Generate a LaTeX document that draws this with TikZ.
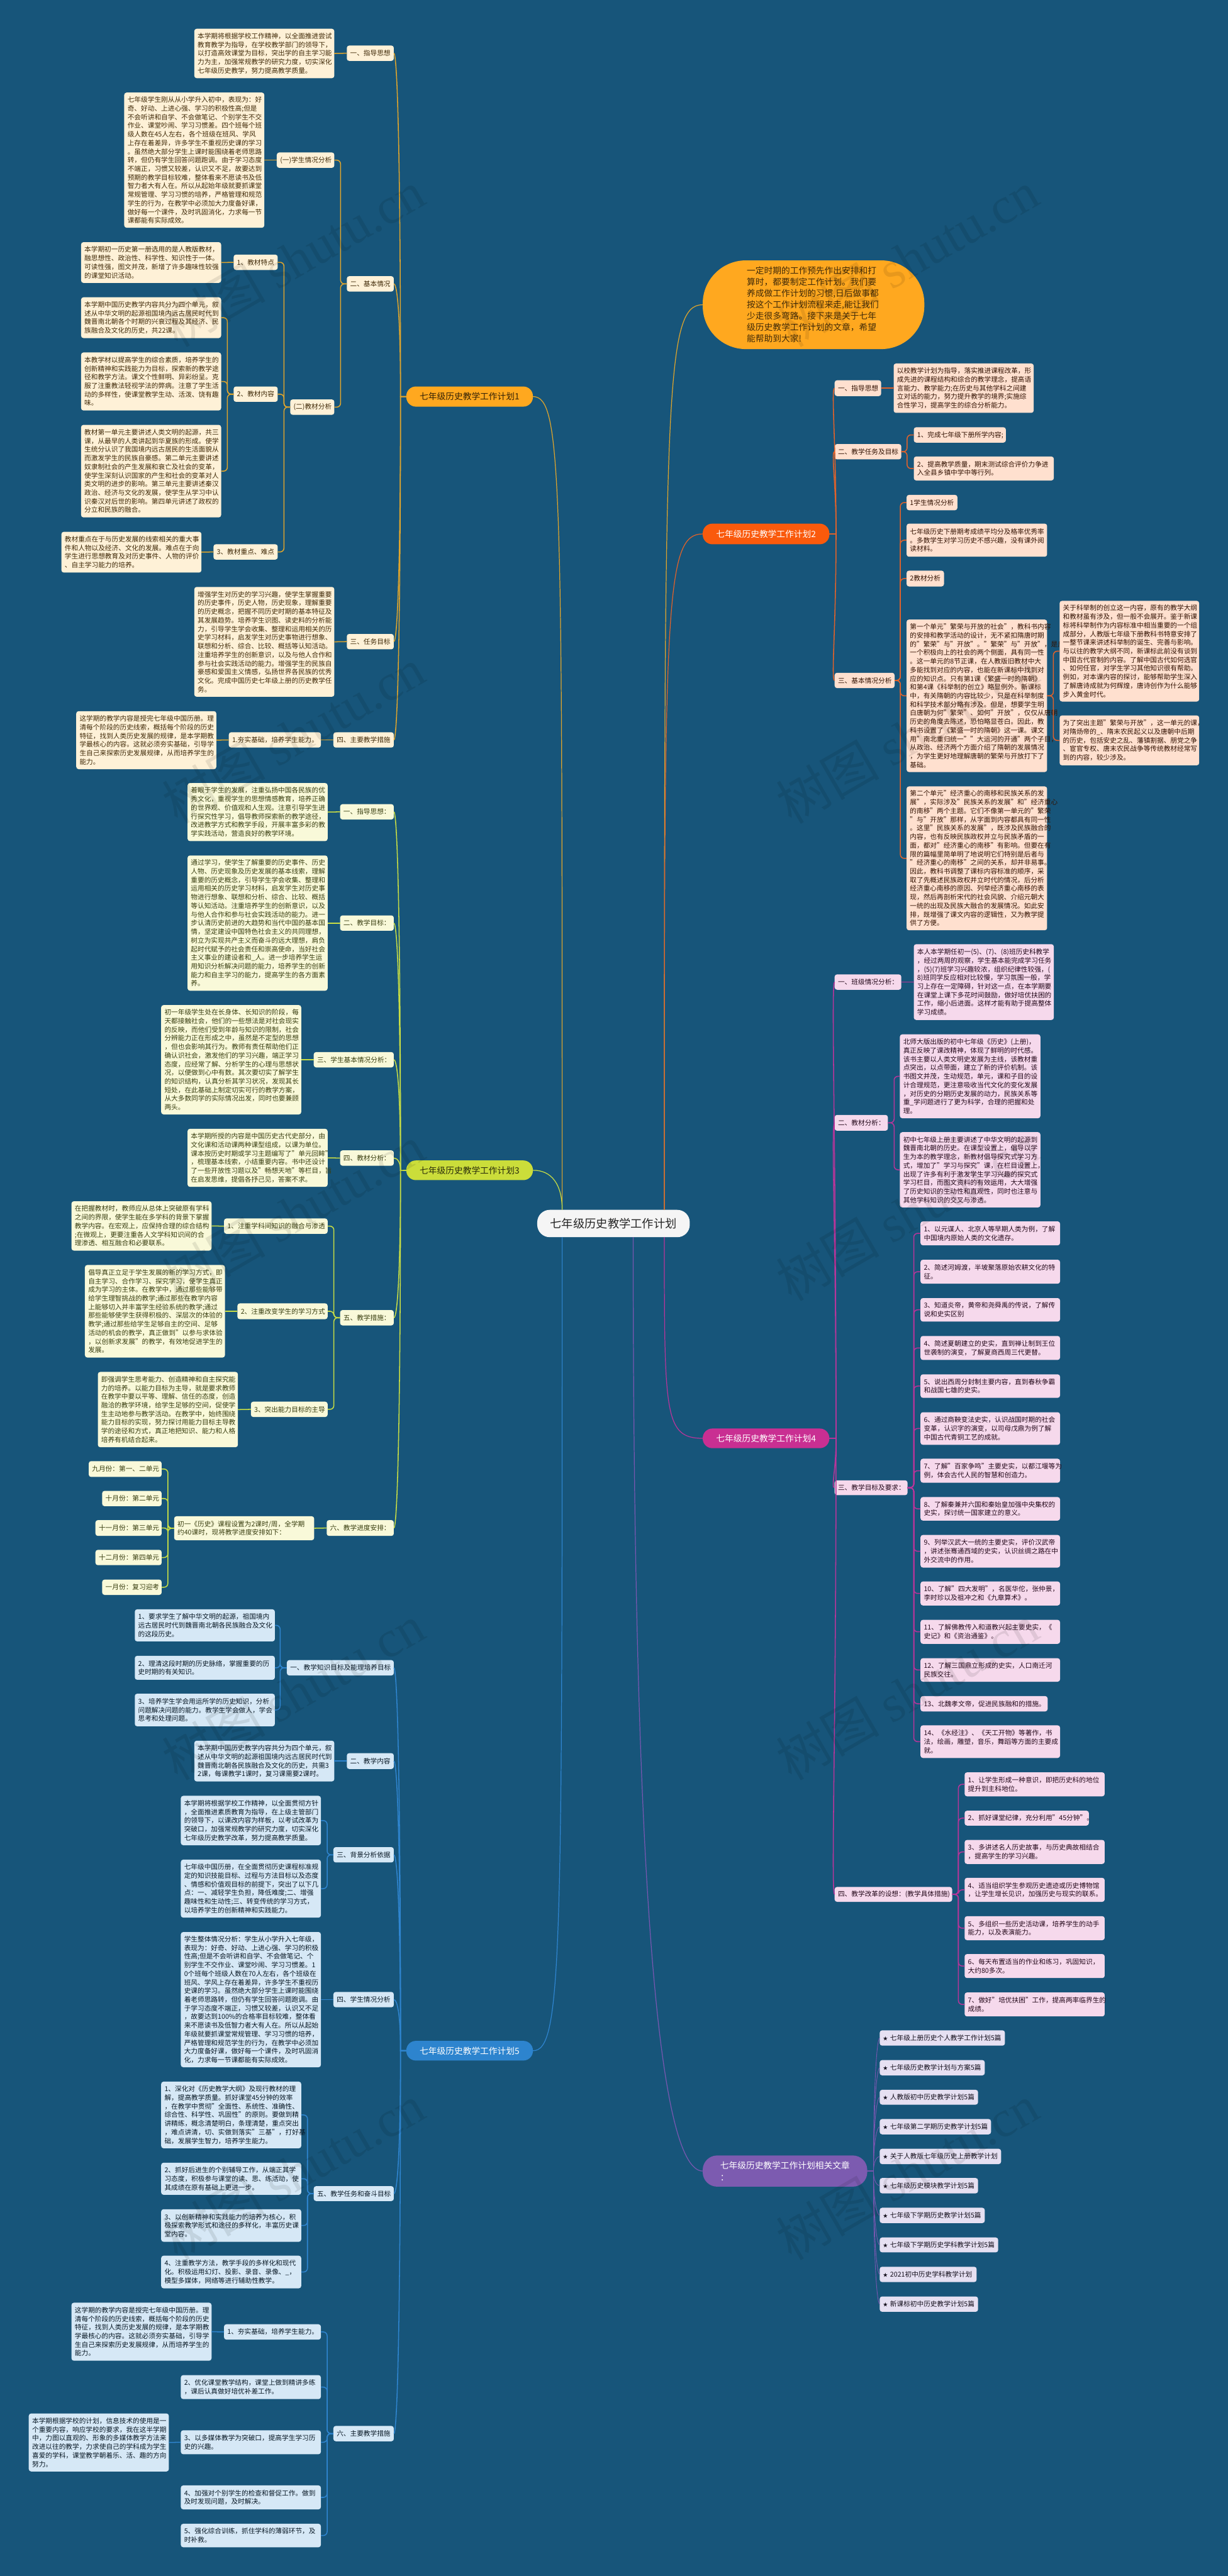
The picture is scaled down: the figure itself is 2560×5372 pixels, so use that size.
\documentclass[tikz,border=0pt]{standalone}
\usepackage{fontspec}
\setmainfont{Noto Sans CJK SC}
\newfontfamily\wmfont{Liberation Serif}
\usepackage{xcolor}
\usetikzlibrary{positioning}
\definecolor{bgblue}{HTML}{17557A}
\definecolor{gold}{HTML}{FFA81F}
\definecolor{goldline}{HTML}{E0A52C}
\definecolor{goldleaf}{HTML}{FEF1D7}
\definecolor{fire}{HTML}{FA5A0C}
\definecolor{fireline}{HTML}{E2622A}
\definecolor{fireleaf}{HTML}{FFE0CF}
\definecolor{lime}{HTML}{CBDD3A}
\definecolor{limeline}{HTML}{C9DE44}
\definecolor{limeleaf}{HTML}{F9F9D9}
\definecolor{rose}{HTML}{C92F92}
\definecolor{roseline}{HTML}{B8359A}
\definecolor{roseleaf}{HTML}{F6D9EC}
\definecolor{sky}{HTML}{2D84CE}
\definecolor{skyline}{HTML}{2F85D0}
\definecolor{skyleaf}{HTML}{D6E8F6}
\definecolor{violet}{HTML}{7C5BB0}
\definecolor{violetline}{HTML}{7957B0}
\definecolor{violetleaf}{HTML}{E6E0F2}
\newcommand{\starmark}{{\fontsize{10}{18}\selectfont ★}}
\tikzset{
    leaf/.style={
        anchor=north west,
        align=left,
        inner xsep=7pt,
        inner ysep=0pt,
        outer sep=0pt,
        rounded corners=5pt,
        font=\fontsize{14}{18}\selectfont
    },
    sz/.code 2 args={
        \pgfmathsetmacro\boxw{#1-14}
        \tikzset{text width=\boxw pt, minimum height=#2pt}
    },
    leafA/.style={leaf, fill=goldleaf, text=black!75!gold},
    leafB/.style={leaf, fill=fireleaf, text=black!80!fire},
    leafC/.style={leaf, fill=limeleaf, text=black!72!lime},
    leafD/.style={leaf, fill=roseleaf, text=black!82!rose},
    leafE/.style={leaf, fill=skyleaf, text=black!82!sky},
    leafF/.style={leaf, fill=violetleaf, text=black!85!violet},
    plan/.style={
        anchor=north west,
        align=left,
        inner xsep=28pt,
        inner ysep=0pt,
        outer sep=0pt,
        rounded corners=20pt,
        font=\fontsize{18}{24}\selectfont
    },
    linkA/.style={draw=goldline, line width=2pt, rounded corners=8pt},
    linkB/.style={draw=fireline, line width=2pt, rounded corners=8pt},
    linkC/.style={draw=limeline, line width=2pt, rounded corners=8pt},
    linkD/.style={draw=roseline, line width=2pt, rounded corners=8pt},
    linkE/.style={draw=skyline, line width=2pt, rounded corners=8pt},
    linkF/.style={draw=violetline, line width=1.2pt},
    wmark/.style={anchor=west, rotate=30, text=black, text opacity=0.09, inner sep=0pt,
        font=\fontsize{108}{108}\selectfont}
}

\begin{document}
\begin{tikzpicture}[x=1pt,y=-1pt]
    \fill[bgblue] (0,0) rectangle (2560,5372);
    \useasboundingbox (0,0) rectangle (2560,5372);

    % centre and the six branches
    \node[anchor=north west, fill=white!96!black, text=black!85, rounded corners=26pt, minimum width=318pt, minimum height=57pt, outer sep=0pt, font=\fontsize{24}{30}\selectfont] (root) at (1120,2523) {七年级历史教学工作计划};
    \node[anchor=north west, fill=gold, text=black!75!gold, rounded corners=90pt, inner xsep=92pt, text width=278pt, minimum height=185pt, align=left, outer sep=0pt, font=\fontsize{18}{23.6}\selectfont] (intro) at (1465,543) {一定时期的工作预先作出安排和打\\算时，都要制定工作计划。我们要\\养成做工作计划的习惯,日后做事都\\按这个工作计划流程来走,能让我们\\少走很多弯路。接下来是关于七年\\级历史教学工作计划的文章，希望\\能帮助到大家!};
    \node[plan, fill=gold, text=black!80!gold, minimum width=247pt, minimum height=42pt] (p1) at (847,806) {七年级历史教学工作计划1};
    \node[plan, fill=fire, text=white, minimum width=248pt, minimum height=43pt] (p2) at (1465,1092) {七年级历史教学工作计划2};
    \node[plan, fill=lime, text=black!80!lime, minimum width=247pt, minimum height=41pt] (p3) at (847,2420) {七年级历史教学工作计划3};
    \node[plan, fill=rose, text=white, minimum width=248pt, minimum height=41pt] (p4) at (1465,2979) {七年级历史教学工作计划4};
    \node[plan, fill=sky, text=white, minimum width=247pt, minimum height=41pt] (p5) at (847,4256) {七年级历史教学工作计划5};
    \node[plan, fill=violet, text=white, rounded corners=30pt, minimum width=343pt, minimum height=65pt] (p6) at (1465,4495) {七年级历史教学工作计划相关文章\\：};

    % plan 1
    \node[leafA, sz={98}{32}] (p1a) at (723,95) {一、指导思想};
    \node[leafA, sz={292}{103}] (p1a1) at (405,60) {本学期将根据学校工作精神，以全面推进尝试\\教育教学为指导，在学校教学部门的领导下，\\以打造高效课堂为目标，突出学的自主学习能\\力为主，加强常规教学的研究力度，切实深化\\七年级历史教学，努力提高教学质量。};
    \node[leafA, sz={98}{32}] (p1b) at (723,576) {二、基本情况};
    \node[leafA, sz={120}{32}] (p1b1) at (577,318) {(一)学生情况分析};
    \node[leafA, sz={292}{282}] (p1b1a) at (259,193) {七年级学生刚从从小学升入初中，表现为：好\\奇、好动、上进心强、学习的积极性高;但是\\不会听讲和自学、不会做笔记、个别学生不交\\作业、课堂吵闹、学习习惯差。四个班每个班\\级人数在45人左右，各个班级在班风、学风\\上存在着差异，许多学生不重视历史课的学习\\。虽然绝大部分学生上课时能围绕着老师思路\\转，但仍有学生回答问题跑调。由于学习态度\\不端正，习惯又较差，认识又不足，故要达到\\预期的教学目标较难，整体看来不愿读书及低\\智力者大有人在。所以从起始年级就要抓课堂\\常规管理、学习习惯的培养，严格管理和规范\\学生的行为，在教学中必须加大力度备好课，\\做好每一个课件，及时巩固消化，力求每一节\\课都能有实际成效。};
    \node[leafA, sz={92}{32}] (p1b2) at (605,833) {(二)教材分析};
    \node[leafA, sz={92}{32}] (p1b2a) at (487,531) {1、教材特点};
    \node[leafA, sz={292}{85}] (p1b2a1) at (169,505) {本学期初一历史第一册选用的是人教版教材，\\融思想性、政治性、科学性、知识性于一体。\\可读性强，图文并茂，新增了许多趣味性较强\\的课堂知识活动。};
    \node[leafA, sz={92}{32}] (p1b2b) at (487,806) {2、教材内容};
    \node[leafA, sz={292}{85}] (p1b2b1) at (169,620) {本学期中国历史教学内容共分为四个单元，叙\\述从中华文明的起源祖国境内远古居民时代到\\魏晋南北朝各个时期的兴衰过程及其经济、民\\族融合及文化的历史，共22课。};
    \node[leafA, sz={292}{121}] (p1b2b2) at (169,735) {本教学材以提高学生的综合素质，培养学生的\\创新精神和实践能力为目标，探索新的教学途\\径和教学方法。课文个性鲜明、异彩纷呈。克\\服了注重教法轻视学法的弊病。注意了学生活\\动的多样性，使课堂教学生动、活泼、饶有趣\\味。};
    \node[leafA, sz={292}{193}] (p1b2b3) at (169,886) {教材第一单元主要讲述人类文明的起源，共三\\课，从最早的人类讲起到华夏族的形成。使学\\生统分认识了我国境内远古居民的生活面貌从\\而激发学生的民族自豪感。第二单元主要讲述\\奴隶制社会的产生发展和衰亡及社会的变革，\\使学生深刻认识国家的产生和社会的变革对人\\类文明的进步的影响。第三单元主要讲述秦汉\\政治、经济与文化的发展，使学生从学习中认\\识秦汉对后世的影响。第四单元讲述了政权的\\分立和民族的融合。};
    \node[leafA, sz={134}{32}] (p1b2c) at (445,1135) {3、教材重点、难点};
    \node[leafA, sz={292}{85}] (p1b2c1) at (128,1109) {教材重点在于与历史发展的线索相关的重大事\\件和人物以及经济、文化的发展。难点在于向\\学生进行思想教育及对历史事件、人物的评价\\、自主学习能力的培养。};
    \node[leafA, sz={98}{32}] (p1c) at (723,1322) {三、任务目标};
    \node[leafA, sz={292}{229}] (p1c1) at (405,1224) {增强学生对历史的学习兴趣，使学生掌握重要\\的历史事件，历史人物，历史现象，理解重要\\的历史概念，把握不同历史时期的基本特征及\\其发展趋势。培养学生识图、读史料的分析能\\力，引导学生学会收集、整理和运用相关的历\\史学习材料，启发学生对历史事物进行想象、\\联想和分析、综合、比较、概括等认知活动。\\注重培养学生的创新意识，以及与他人合作和\\参与社会实践活动的能力。增强学生的民族自\\豪感和爱国主义情感，弘扬世界各民族的优秀\\文化。完成中国历史七年级上册的历史教学任\\务。};
    \node[leafA, sz={126}{32}] (p1d) at (695,1527) {四、主要教学措施};
    \node[leafA, sz={192}{32}] (p1d1) at (477,1527) {1.夯实基础，培养学生能力。};
    \node[leafA, sz={292}{121}] (p1d1a) at (159,1483) {这学期的教学内容是授完七年级中国历册。理\\清每个阶段的历史线索，概括每个阶段的历史\\特征，找到人类历史发展的规律，是本学期教\\学最核心的内容。这就必须夯实基础，引导学\\生自己来探索历史发展规律，从而培养学生的\\能力。};

    % plan 2
    \node[leafB, sz={97}{33}] (p2a) at (1740,793) {一、指导思想};
    \node[leafB, sz={292}{103}] (p2a1) at (1863,758) {以校教学计划为指导，落实推进课程改革，形\\成先进的课程结构和综合的教学理念，提高语\\言能力、教学能力;在历史与其他学科之间建\\立对话的能力，努力提升教学的境界;实施综\\合性学习，提高学生的综合分析能力。};
    \node[leafB, sz={139}{32}] (p2b) at (1740,926) {二、教学任务及目标};
    \node[leafB, sz={192}{32}] (p2b1) at (1905,891) {1、完成七年级下册所学内容;};
    \node[leafB, sz={292}{50}] (p2b2) at (1905,952) {2、提高教学质量，期末测试综合评价力争进\\入全县乡镇中学中等行列。};
    \node[leafB, sz={125}{32}] (p2c) at (1740,1403) {三、基本情况分析};
    \node[leafB, sz={106}{32}] (p2c1) at (1890,1032) {1学生情况分析};
    \node[leafB, sz={293}{69}] (p2c2) at (1890,1092) {七年级历史下册期考成绩平均分及格率优秀率\\。多数学生对学习历史不感兴趣，没有课外阅\\读材料。};
    \node[leafB, sz={78}{33}] (p2c3) at (1890,1190) {2教材分析};
    \node[leafB, sz={293}{318}] (p2c4) at (1890,1292) {第一个单元"繁荣与开放的社会"，教科书内容\\的安排和教学活动的设计，无不紧扣隋唐时期\\的"繁荣"与"开放"。"繁荣"与"开放"，是反映\\一个积极向上的社会的两个侧面，具有同一性\\。这一单元的8节正课，在人教版旧教材中大\\多能找到对应的内容，也能在新课标中找到对\\应的知识点。只有第1课《繁盛一时的隋朝》\\和第4课《科举制的创立》略显例外。新课标\\中，有关隋朝的内容比较少，只是在科举制度\\和科学技术部分略有涉及。但是，想要学生明\\白唐朝为何"繁荣"、如何"开放"，仅仅从唐朝\\历史的角度去陈述，恐怕略显苍白。因此，教\\科书设置了《繁盛一时的隋朝》这一课。课文\\用"南北重归统一""大运河的开通"两个子目，\\从政治、经济两个方面介绍了隋朝的发展情况\\，为学生更好地理解唐朝的繁荣与开放打下了\\基础。};
    \node[leafB, sz={291}{210}] (p2c4a) at (2209,1253) {关于科举制的创立这一内容，原有的教学大纲\\和教材虽有涉及，但一般不会展开。鉴于新课\\标将科举制作为内容标准中相当重要的一个组\\成部分，人教版七年级下册教科书特意安排了\\一整节课来讲述科举制的诞生、完善与影响。\\与以往的教学大纲不同，新课标此前没有谈到\\中国古代官制的内容。了解中国古代如何选官\\、如何任官，对学生学习其他知识很有帮助。\\例如，对本课内容的探讨，能够帮助学生深入\\了解唐诗成就为何辉煌，唐诗创作为什么能够\\步入黄金时代。};
    \node[leafB, sz={291}{104}] (p2c4b) at (2209,1492) {为了突出主题"繁荣与开放"，这一单元的课，\\对隋炀帝的\_、隋末农民起义以及唐朝中后期\\的历史，包括安史之乱、藩镇割据、朋党之争\\、宦官专权、唐末农民战争等传统教材经常写\\到的内容，较少涉及。};
    \node[leafB, sz={293}{300}] (p2c5) at (1890,1640) {第二个单元"经济重心的南移和民族关系的发\\展"，实际涉及"民族关系的发展"和"经济重心\\的南移"两个主题。它们不像第一单元的"繁荣\\"与"开放"那样，从字面到内容都具有同一性\\。这里"民族关系的发展"，既涉及民族融合的\\内容，也有反映民族政权并立与民族矛盾的一\\面，都对"经济重心的南移"有影响。但要在有\\限的篇幅里简单明了地说明它们特别是后者与\\"经济重心的南移"之间的关系，却并非易事。\\因此，教科书调整了课标内容标准的顺序，采\\取了先概述民族政权并立时代的情况，后分析\\经济重心南移的原因、列举经济重心南移的表\\现，然后再剖析宋代的社会风貌、介绍元朝大\\一统的出现及民族大融合的发展情况。如此安\\排，既增强了课文内容的逻辑性，又为教学提\\供了方便。};

    % plan 3
    \node[leafC, sz={112}{32}] (p3a) at (709,1677) {一、指导思想：};
    \node[leafC, sz={292}{121}] (p3a1) at (391,1633) {着眼于学生的发展，注重弘扬中国各民族的优\\秀文化，重视学生的思想情感教育，培养正确\\的世界观、价值观和人生观。注意引导学生进\\行探究性学习，倡导教师探索新的教学途径，\\改进教学方式和教学手段，开展丰富多彩的教\\学实践活动，营造良好的教学环境。};
    \node[leafC, sz={112}{32}] (p3b) at (709,1909) {二、教学目标：};
    \node[leafC, sz={292}{282}] (p3b1) at (391,1784) {通过学习，使学生了解重要的历史事件、历史\\人物、历史现象及历史发展的基本线索，理解\\重要的历史概念，引导学生学会收集、整理和\\运用相关的历史学习材料，启发学生对历史事\\物进行想象、联想和分析、综合、比较、概括\\等认知活动。注重培养学生的创新意识，以及\\与他人合作和参与社会实践活动的能力。进一\\步认清历史前进的大趋势和当代中国的基本国\\情，坚定建设中国特色社会主义的共同理想，\\树立为实现共产主义而奋斗的远大理想，肩负\\起时代赋予的社会责任和崇高使命，当好社会\\主义事业的建设者和\_人。进一步培养学生运\\用知识分析解决问题的能力，培养学生的创新\\能力和自主学习的能力，提高学生的各方面素\\养。};
    \node[leafC, sz={167}{32}] (p3c) at (654,2194) {三、学生基本情况分析：};
    \node[leafC, sz={292}{228}] (p3c1) at (336,2096) {初一年级学生处在长身体、长知识的阶段，每\\天都接触社会，他们的一些想法是对社会现实\\的反映，而他们受到年龄与知识的限制，社会\\分辨能力正在形成之中，虽然是不定型的思想\\，但也会影响其行为。教师有责任帮助他们正\\确认识社会，激发他们的学习兴趣，端正学习\\态度，应经常了解、分析学生的心理与思想状\\况，以便做到心中有数。其次要切实了解学生\\的知识结构，认真分析其学习状况，发现其长\\短处，在此基础上制定切实可行的教学方案，\\从大多数同学的实际情况出发，同时也要兼顾\\两头。};
    \node[leafC, sz={112}{32}] (p3d) at (709,2399) {四、教材分析：};
    \node[leafC, sz={292}{121}] (p3d1) at (391,2354) {本学期所授的内容是中国历史古代史部分，由\\文化课和活动课两种课型组成，以课为单位。\\课本按历史时期或学习主题编写了"单元回眸"\\，梳理基本线索，小结重要内容。书中还设计\\了一些开放性习题以及"畅想天地"等栏目，旨\\在启发思维，提倡各抒己见，答案不求。};
    \node[leafC, sz={112}{32}] (p3e) at (709,2732) {五、教学措施：};
    \node[leafC, sz={216}{32}] (p3e1) at (467,2541) {1、注重学科间知识的融合与渗透};
    \node[leafC, sz={292}{103}] (p3e1a) at (149,2505) {在把握教材时，教师应从总体上突破原有学科\\之间的界限，使学生能在多学科的背景下掌握\\教学内容。在宏观上，应保持合理的综合结构\\;在微观上，更要注重各人文学科知识间的合\\理渗透、相互融合和必要联系。};
    \node[leafC, sz={188}{33}] (p3e2) at (495,2718) {2、注重改变学生的学习方式};
    \node[leafC, sz={292}{193}] (p3e2a) at (177,2638) {倡导真正立足于学生发展的新的学习方式，即\\自主学习、合作学习、探究学习，使学生真正\\成为学习的主体。在教学中，通过那些能够带\\给学生理智挑战的教学;通过那些在教学内容\\上能够切入并丰富学生经验系统的教学;通过\\那些能够使学生获得积极的、深层次的体验的\\教学;通过那些给学生足够自主的空间、足够\\活动的机会的教学，真正做到"以参与求体验\\，以创新求发展"的教学，有效地促进学生的\\发展。};
    \node[leafC, sz={160}{32}] (p3e3) at (523,2923) {3、突出能力目标的主导};
    \node[leafC, sz={292}{157}] (p3e3a) at (204,2861) {即强调学生思考能力、创造精神和自主探究能\\力的培养。以能力目标为主导，就是要求教师\\在教学中要以平等、理解、信任的态度，创造\\融洽的教学环境，给学生足够的空间，促使学\\生主动地参与教学活动。在教学中，始终围绕\\能力目标的实现，努力探讨用能力目标主导教\\学的途径和方式，真正地把知识、能力和人格\\培养有机结合起来。};
    \node[leafC, sz={140}{33}] (p3f) at (681,3170) {六、教学进度安排：};
    \node[leafC, sz={292}{50}] (p3f1) at (363,3162) {初一《历史》课程设置为2课时/周，全学期\\约40课时，现将教学进度安排如下：};
    \node[leafC, sz={152}{33}] (p3f1a) at (185,3047) {九月份：第一、二单元};
    \node[leafC, sz={124}{32}] (p3f1b) at (213,3109) {十月份：第二单元};
    \node[leafC, sz={138}{33}] (p3f1c) at (199,3170) {十一月份：第三单元};
    \node[leafC, sz={138}{32}] (p3f1d) at (199,3232) {十二月份：第四单元};
    \node[leafC, sz={124}{32}] (p3f1e) at (213,3294) {一月份：复习迎考};

    % plan 4
    \node[leafD, sz={139}{32}] (p4a) at (1740,2032) {一、班级情况分析：};
    \node[leafD, sz={292}{158}] (p4a1) at (1905,1969) {本人本学期任初一(5)、(7)、(8)班历史科教学\\，经过两周的观察，学生基本能完成学习任务\\，(5)(7)班学习兴趣较浓，组织纪律性较强，(\\8)班同学反应相对比较慢，学习氛围一般，学\\习上存在一定障碍，针对这一点，在本学期要\\在课堂上课下多花时间鼓励，做好培优扶困的\\工作，缩小后进面。这样才能有助于提高整体\\学习成绩。};
    \node[leafD, sz={111}{33}] (p4b) at (1740,2325) {二、教材分析：};
    \node[leafD, sz={293}{175}] (p4b1) at (1876,2157) {北师大版出版的初中七年级《历史》(上册)，\\真正反映了课改精神，体现了鲜明的时代感。\\该书主要以人类文明史发展为主线，该教材重\\点突出，以点带面，建立了新的评价机制。该\\书图文并茂，生动规范，单元，课和子目的设\\计合理规范，更注意吸收当代文化的变化发展\\，对历史的分期历史发展的动力，民族关系等\\重\_学问题进行了更为科学，合理的把握和处\\理。};
    \node[leafD, sz={293}{157}] (p4b2) at (1876,2361) {初中七年级上册主要讲述了中华文明的起源到\\魏晋南北朝的历史。在课型设置上，倡导以学\\生为本的教学理念，新教材倡导探究式学习方\\式，增加了"学习与探究"课，在栏目设置上，\\出现了许多有利于激发学生学习兴趣的探究式\\学习栏目，而图文资料的有效运用，大大增强\\了历史知识的生动性和直观性，同时也注意与\\其他学科知识的交叉与渗透。};
    \node[leafD, sz={152}{31}] (p4c) at (1740,3087) {三、教学目标及要求：};
    \node[leafD, sz={291}{50}] (p4c1) at (1919,2547) {1、以元谋人、北京人等早期人类为例，了解\\中国境内原始人类的文化遗存。};
    \node[leafD, sz={291}{50}] (p4c2) at (1919,2627) {2、简述河姆渡，半坡聚落原始农耕文化的特\\征。};
    \node[leafD, sz={291}{49}] (p4c3) at (1919,2707) {3、知道炎帝，黄帝和尧舜禹的传说，了解传\\说和史实区别};
    \node[leafD, sz={291}{50}] (p4c4) at (1919,2786) {4、简述夏朝建立的史实，直到禅让制到王位\\世袭制的演变，了解夏商西周三代更替。};
    \node[leafD, sz={291}{49}] (p4c5) at (1919,2866) {5、说出西周分封制主要内容，直到春秋争霸\\和战国七雄的史实。};
    \node[leafD, sz={291}{68}] (p4c6) at (1919,2945) {6、通过商鞅变法史实，认识战国时期的社会\\变革，认识字的演变，以司母戊鼎为例了解\\中国古代青铜工艺的成就。};
    \node[leafD, sz={291}{50}] (p4c7) at (1919,3042) {7、了解"百家争鸣"主要史实，以都江堰等为\\例，体会古代人民的智慧和创造力。};
    \node[leafD, sz={291}{49}] (p4c8) at (1919,3122) {8、了解秦兼并六国和秦始皇加强中央集权的\\史实，探讨统一国家建立的意义。};
    \node[leafD, sz={291}{68}] (p4c9) at (1919,3201) {9、列举汉武大一统的主要史实，评价汉武帝\\，讲述张骞通西域的史实，认识丝绸之路在中\\外交流中的作用。};
    \node[leafD, sz={291}{50}] (p4c10) at (1919,3298) {10、了解"四大发明"，名医华佗，张仲景，\\李时珍以及祖冲之和《九章算术》。};
    \node[leafD, sz={291}{50}] (p4c11) at (1919,3378) {11、了解佛教传入和道教兴起主要史实，《\\史记》和《资治通鉴》。};
    \node[leafD, sz={291}{49}] (p4c12) at (1919,3458) {12、了解三国鼎立形成的史实，人口南迁河\\民族交往。};
    \node[leafD, sz={265}{32}] (p4c13) at (1919,3537) {13、北魏孝文帝，促进民族融和的措施。};
    \node[leafD, sz={291}{68}] (p4c14) at (1919,3598) {14、《水经注》、《天工开物》等著作，书\\法，绘画，雕塑，音乐，舞蹈等方面的主要成\\就。};
    \node[leafD, sz={245}{31}] (p4d) at (1740,3935) {四、教学改革的设想：(教学具体措施)};
    \node[leafD, sz={292}{50}] (p4d1) at (2011,3696) {1、让学生形成一种意识，即把历史科的地位\\提升到主科地位。};
    \node[leafD, sz={259}{31}] (p4d2) at (2011,3776) {2、抓好课堂纪律，充分利用"45分钟"。};
    \node[leafD, sz={292}{50}] (p4d3) at (2011,3837) {3、多讲述名人历史故事，与历史典故相结合\\，提高学生的学习兴趣。};
    \node[leafD, sz={292}{50}] (p4d4) at (2011,3916) {4、适当组织学生参观历史遗迹或历史博物馆\\，让学生增长见识，加强历史与现实的联系。};
    \node[leafD, sz={292}{50}] (p4d5) at (2011,3996) {5、多组织一些历史活动课，培养学生的动手\\能力，以及表演能力。};
    \node[leafD, sz={292}{50}] (p4d6) at (2011,4075) {6、每天布置适当的作业和练习，巩固知识，\\大约80多次。};
    \node[leafD, sz={292}{50}] (p4d7) at (2011,4155) {7、做好"培优扶困"工作，提高两率临界生的\\成绩。};

    % plan 5
    \node[leafE, sz={223}{32}] (p5a) at (598,3462) {一、教学知识目标及能理培养目标};
    \node[leafE, sz={292}{67}] (p5a1) at (281,3356) {1、要求学生了解中华文明的起源，祖国境内\\远古居民时代到魏晋南北朝各民族融合及文化\\的这段历史。};
    \node[leafE, sz={292}{50}] (p5a2) at (281,3453) {2、理清这段时期的历史脉络，掌握重要的历\\史时期的有关知识。};
    \node[leafE, sz={292}{68}] (p5a3) at (281,3532) {3、培养学生学会用运所学的历史知识，分析\\问题解决问题的能力。教学生学会做人，学会\\思考和处理问题。};
    \node[leafE, sz={98}{33}] (p5b) at (723,3656) {二、教学内容};
    \node[leafE, sz={292}{85}] (p5b1) at (405,3630) {本学期中国历史教学内容共分为四个单元，叙\\述从中华文明的起源祖国境内远古居民时代到\\魏晋南北朝各民族融合及文化的历史，共需3\\2课，每课教学1课时，复习课需要2课时。};
    \node[leafE, sz={126}{32}] (p5c) at (695,3852) {三、背景分析依据};
    \node[leafE, sz={292}{103}] (p5c1) at (377,3745) {本学期将根据学校工作精神，以全面贯彻方针\\，全面推进素质教育为指导，在上级主管部门\\的领导下，以课改内容为样板，以考试改革为\\突破口，加强常规教学的研究力度，切实深化\\七年级历史教学改革，努力提高教学质量。};
    \node[leafE, sz={292}{121}] (p5c2) at (377,3878) {七年级中国历册，在全面贯彻历史课程标准规\\定的知识技能目标、过程与方法目标以及态度\\、情感和价值观目标的前提下，突出了以下几\\点：一、减轻学生负担，降低难度;二、增强\\趣味性和生动性;三、转变传统的学习方式，\\以培养学生的创新精神和实践能力。};
    \node[leafE, sz={126}{32}] (p5d) at (695,4154) {四、学生情况分析};
    \node[leafE, sz={292}{282}] (p5d1) at (377,4029) {学生整体情况分析：学生从小学升入七年级，\\表现为：好奇、好动、上进心强、学习的积极\\性高;但是不会听讲和自学、不会做笔记、个\\别学生不交作业、课堂吵闹、学习习惯差。1\\0个班每个班级人数在70人左右，各个班级在\\班风、学风上存在着差异，许多学生不重视历\\史课的学习。虽然绝大部分学生上课时能围绕\\着老师思路转，但仍有学生回答问题跑调。由\\于学习态度不端正，习惯又较差，认识又不足\\，故要达到100\%的合格率目标较难，整体看\\来不愿读书及低智力者大有人在。所以从起始\\年级就要抓课堂常规管理、学习习惯的培养，\\严格管理和规范学生的行为，在教学中必须加\\大力度备好课，做好每一个课件，及时巩固消\\化，力求每一节课都能有实际成效。};
    \node[leafE, sz={167}{31}] (p5e) at (654,4559) {五、教学任务和奋斗目标};
    \node[leafE, sz={292}{139}] (p5e1) at (336,4341) {1、深化对《历史教学大纲》及现行教材的理\\解，提高教学质量。抓好课堂45分钟的效率\\，在教学中贯彻"全面性、系统性、准确性、\\综合性、科学性、巩固性"的原则。要做到精\\讲精练，概念清楚明白，条理清楚，重点突出\\，难点讲清，切、实做到落实"三基"，打好基\\础，发展学生智力，培养学生能力。};
    \node[leafE, sz={292}{67}] (p5e2) at (336,4510) {2、抓好后进生的个别辅导工作，从端正其学\\习态度，积极参与课堂的读、思、练活动，使\\其成绩在原有基础上更进一步。};
    \node[leafE, sz={292}{68}] (p5e3) at (336,4607) {3、以创新精神和实践能力的培养为核心，积\\极探索教学形式和途径的多样化，丰富历史课\\堂内容。};
    \node[leafE, sz={292}{68}] (p5e4) at (336,4704) {4、注重教学方法，教学手段的多样化和现代\\化。积极运用幻灯、投影、录音、录像、\_，\\模型多媒体，网络等进行辅助性教学。};
    \node[leafE, sz={126}{32}] (p5f) at (695,5059) {六、主要教学措施};
    \node[leafE, sz={202}{32}] (p5f1) at (467,4847) {1、夯实基础，培养学生能力。};
    \node[leafE, sz={292}{121}] (p5f1a) at (149,4802) {这学期的教学内容是授完七年级中国历册。理\\清每个阶段的历史线索，概括每个阶段的历史\\特征，找到人类历史发展的规律，是本学期教\\学最核心的内容。这就必须夯实基础，引导学\\生自己来探索历史发展规律，从而培养学生的\\能力。};
    \node[leafE, sz={292}{50}] (p5f2) at (377,4953) {2、优化课堂教学结构，课堂上做到精讲多练\\，课后认真做好培优补差工作。};
    \node[leafE, sz={292}{50}] (p5f3) at (377,5068) {3、以多媒体教学为突破口，提高学生学习历\\史的兴趣。};
    \node[leafE, sz={292}{121}] (p5f3a) at (60,5033) {本学期根据学校的计划，信息技术的使用是一\\个重要内容，响应学校的要求，我在这半学期\\中，力图以直观的、形象的多媒体教学方法来\\改进以往的教学，力求使自己的学科成为学生\\喜爱的学科，课堂教学朝着乐、活、趣的方向\\努力。};
    \node[leafE, sz={292}{50}] (p5f4) at (377,5183) {4、加强对个别学生的检查和督促工作。做到\\及时发现问题，及时解决。};
    \node[leafE, sz={292}{49}] (p5f5) at (377,5263) {5、强化综合训练，抓住学科的薄弱环节，及\\时补救。};

    % plan 6
    \node[leafF, sz={261}{32}] (p6a) at (1834,4234) {\starmark~七年级上册历史个人教学工作计划5篇};
    \node[leafF, sz={219}{32}] (p6b) at (1834,4296) {\starmark~七年级历史教学计划与方案5篇};
    \node[leafF, sz={205}{31}] (p6c) at (1834,4358) {\starmark~人教版初中历史教学计划5篇};
    \node[leafF, sz={232}{32}] (p6d) at (1834,4419) {\starmark~七年级第二学期历史教学计划5篇};
    \node[leafF, sz={253}{32}] (p6e) at (1834,4481) {\starmark~关于人教版七年级历史上册教学计划};
    \node[leafF, sz={205}{32}] (p6f) at (1834,4542) {\starmark~七年级历史模块教学计划5篇};
    \node[leafF, sz={219}{32}] (p6g) at (1834,4604) {\starmark~七年级下学期历史教学计划5篇};
    \node[leafF, sz={247}{31}] (p6h) at (1834,4666) {\starmark~七年级下学期历史学科教学计划5篇};
    \node[leafF, sz={202}{32}] (p6i) at (1834,4727) {\starmark~2021初中历史学科教学计划};
    \node[leafF, sz={205}{32}] (p6j) at (1834,4789) {\starmark~新课标初中历史教学计划5篇};

    % connectors from the centre
    \coordinate (rootNL) at (1172,2523);
    \coordinate (rootSL) at (1172,2580);
    \coordinate (rootNR) at (1385,2523);
    \coordinate (rootSR) at (1385,2580);
    \coordinate (rootSB) at (1320,2580);
    \draw[goldline, line width=1.6pt] (rootNR) .. controls (1385,820) and (1385,635.5) .. (intro.west);
    \draw[goldline, line width=1.6pt] (rootNL) .. controls (1172,1000) and (1172,827) .. (p1.east);
    \draw[fireline, line width=1.6pt] (rootNR) .. controls (1385,1260) and (1385,1113) .. (p2.west);
    \draw[limeline, line width=1.6pt] (rootNL) .. controls (1172,2470) and (1150,2440) .. (p3.east);
    \draw[roseline, line width=1.6pt] (rootSR) .. controls (1385,2950) and (1385,2999) .. (p4.west);
    \draw[skyline, line width=1.6pt] (rootSL) .. controls (1172,4080) and (1172,4277) .. (p5.east);
    \draw[violetline, line width=1.6pt] (rootSB) .. controls (1320,3900) and (1370,4527) .. (p6.west);

    % branches to their first level
    \foreach \c/\d in {p1a/-465,p1b/-153,p1c/332,p1d/465}
        \draw[goldline, line width=2pt] (p1.west) -- ++(-12,0) .. controls +(0,\d) and +(8,0) .. (\c.east);
    \foreach \c/\d in {p2a/-197,p2b/-111,p2c/199}
        \draw[fireline, line width=2pt] (p2.east) -- ++(14,0) .. controls +(0,\d) and +(-8,0) .. (\c.west);
    \foreach \c/\d in {p3a/-485,p3b/-335,p3c/-150,p3d/-16,p3e/200,p3f/485}
        \draw[limeline, line width=2pt] (p3.west) -- ++(-12,0) .. controls +(0,\d) and +(8,0) .. (\c.east);
    \foreach \c/\d in {p4a/-618,p4b/-428,p4c/67,p4d/618}
        \draw[roseline, line width=2pt] (p4.east) -- ++(14,0) .. controls +(0,\d) and +(-8,0) .. (\c.west);
    \foreach \c/\d in {p5a/-520,p5b/-393,p5c/-266,p5d/-70,p5e/193,p5f/519}
        \draw[skyline, line width=2pt] (p5.west) -- ++(-12,0) .. controls +(0,\d) and +(8,0) .. (\c.east);
    \foreach \c/\d in {p6a/-180,p6b/-140,p6c/-100,p6d/-60,p6e/-20,p6f/20,p6g/60,p6h/100,p6i/140,p6j/180}
        \draw[linkF] (p6.east) -- ++(13,0) .. controls +(0,\d) and +(-6,0) .. (\c.west);

    % elbows
    \draw[linkA] (p1a.west) -- (p1a1.east);
    \foreach \c in {p1b1,p1b2} \draw[linkA] (p1b.west) -- ++(-13,0) |- (\c.east);
    \draw[linkA] (p1b1.west) -- (p1b1a.east);
    \foreach \c in {p1b2a,p1b2b,p1b2c} \draw[linkA] (p1b2.west) -- ++(-13,0) |- (\c.east);
    \draw[linkA] (p1b2a.west) -- (p1b2a1.east);
    \foreach \c in {p1b2b1,p1b2b2,p1b2b3} \draw[linkA] (p1b2b.west) -- ++(-13,0) |- (\c.east);
    \draw[linkA] (p1b2c.west) -- (p1b2c1.east);
    \draw[linkA] (p1c.west) -- (p1c1.east);
    \draw[linkA] (p1d.west) -- (p1d1.east);
    \draw[linkA] (p1d1.west) -- (p1d1a.east);

    \draw[linkB] (p2a.east) -- (p2a1.west);
    \foreach \c in {p2b1,p2b2} \draw[linkB] (p2b.east) -- ++(12,0) |- (\c.west);
    \foreach \c in {p2c1,p2c2,p2c3,p2c4,p2c5} \draw[linkB] (p2c.east) -- ++(12,0) |- (\c.west);
    \foreach \c in {p2c4a,p2c4b} \draw[linkB] (p2c4.east) -- ++(13,0) |- (\c.west);

    \draw[linkC] (p3a.west) -- (p3a1.east);
    \draw[linkC] (p3b.west) -- (p3b1.east);
    \draw[linkC] (p3c.west) -- (p3c1.east);
    \draw[linkC] (p3d.west) -- (p3d1.east);
    \foreach \c in {p3e1,p3e2,p3e3} \draw[linkC] (p3e.west) -- ++(-13,0) |- (\c.east);
    \draw[linkC] (p3e1.west) -- (p3e1a.east);
    \draw[linkC] (p3e2.west) -- (p3e2a.east);
    \draw[linkC] (p3e3.west) -- (p3e3a.east);
    \draw[linkC] (p3f.west) -- (p3f1.east);
    \foreach \c in {p3f1a,p3f1b,p3f1c,p3f1d,p3f1e} \draw[linkC] (p3f1.west) -- ++(-13,0) |- (\c.east);

    \draw[linkD] (p4a.east) -- (p4a1.west);
    \foreach \c in {p4b1,p4b2} \draw[linkD] (p4b.east) -- ++(13,0) |- (\c.west);
    \foreach \c in {p4c1,p4c2,p4c3,p4c4,p4c5,p4c6,p4c7,p4c8,p4c9,p4c10,p4c11,p4c12,p4c13,p4c14}
        \draw[linkD] (p4c.east) -- ++(13,0) |- (\c.west);
    \foreach \c in {p4d1,p4d2,p4d3,p4d4,p4d5,p4d6,p4d7} \draw[linkD] (p4d.east) -- ++(13,0) |- (\c.west);

    \foreach \c in {p5a1,p5a2,p5a3} \draw[linkE] (p5a.west) -- ++(-14,0) |- (\c.east);
    \draw[linkE] (p5b.west) -- (p5b1.east);
    \foreach \c in {p5c1,p5c2} \draw[linkE] (p5c.west) -- ++(-13,0) |- (\c.east);
    \draw[linkE] (p5d.west) -- (p5d1.east);
    \foreach \c in {p5e1,p5e2,p5e3,p5e4} \draw[linkE] (p5e.west) -- ++(-13,0) |- (\c.east);
    \foreach \c in {p5f1,p5f2,p5f3,p5f4,p5f5} \draw[linkE] (p5f.west) -- ++(-13,0) |- (\c.east);
    \draw[linkE] (p5f1.west) -- (p5f1a.east);
    \draw[linkE] (p5f3.west) -- (p5f3a.east);

    % watermark
    \foreach \r in {690,1685,2680,3680,4680} {
        \node[wmark] (wmL\r) at (350,\r) {树图 {\wmfont shutu.cn}};
        \node[wmark] (wmR\r) at (1630,\r) {树图 {\wmfont shutu.cn}};
    }
\end{tikzpicture}
\end{document}
